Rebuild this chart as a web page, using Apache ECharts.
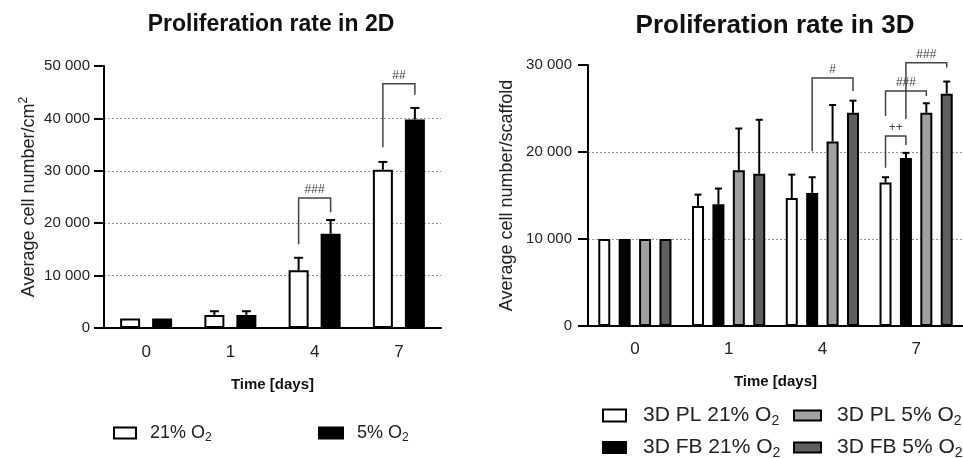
<!DOCTYPE html>
<html>
<head>
<meta charset="utf-8">
<script src="https://cdn.jsdelivr.net/npm/echarts@6/dist/echarts.min.js"></script>
<style>
  html, body { margin: 0; padding: 0; background: #fff; }
  #main { width: 963px; height: 458px; }
</style>
</head>
<body>
<div id="main"></div>
<script>
// categories
var days = ['0', '1', '4', '7'];

// 2D: mean and SD
var o21_2d = [1800, 2500, 11000, 30200];
var o21_2d_sd = [0, 700, 2400, 1500];
var o5_2d = [1800, 2500, 18000, 39800];
var o5_2d_sd = [0, 700, 2600, 2200];

// 3D: mean and SD
var pl21 = [10000, 13800, 14700, 16500];
var pl21_sd = [0, 1300, 2700, 600];
var fb21 = [10000, 14000, 15300, 19300];
var fb21_sd = [0, 1800, 1800, 600];
var pl5 = [10000, 17900, 21200, 24500];
var pl5_sd = [0, 4800, 4200, 1100];
var fb5 = [10000, 17500, 24500, 26700];
var fb5_sd = [0, 6200, 1400, 1400];

// significance brackets: [category, from bar, to bar, left foot, top, right foot]
var brackets2d = [[2, 0, 1, 16000, 24800, 22100], [3, 0, 1, 34500, 46600, 44500]];
var brackets2dText = ['###', '##'];
var brackets3d = [[2, 1, 3, 20100, 28500, 27000], [3, 0, 1, 18200, 21850, 20800],
                  [3, 0, 2, 24150, 27000, 26450], [3, 1, 3, 23800, 30250, 29700]];
var brackets3dText = ['#', '++', '###', '###'];

var SANS = '"Liberation Sans", Arial, sans-serif';

function thousands(v) {
    return String(v).replace(/\B(?=(\d{3})+(?!\d))/g, ' ');
}

function errData(series) {
    var out = [];
    series.forEach(function (s, idx) {
        s[0].forEach(function (m, c) {
            if (s[1][c] > 0) out.push([c, idx, m, m + s[1][c]]);
        });
    });
    return out;
}

function errRender(barW, gap, n, cap) {
    return function (params, api) {
        var cat = api.value(0), idx = api.value(1);
        var off = (idx - (n - 1) / 2) * (barW + gap);
        var p0 = api.coord([cat, api.value(2)]);
        var p1 = api.coord([cat, api.value(3)]);
        var x = p0[0] + off;
        return {
            type: 'group',
            children: [
                {type: 'line', shape: {x1: x, y1: p0[1], x2: x, y2: p1[1]}, style: {stroke: '#000', lineWidth: 2}},
                {type: 'line', shape: {x1: x - cap / 2, y1: p1[1], x2: x + cap / 2, y2: p1[1]}, style: {stroke: '#000', lineWidth: 2}}
            ]
        };
    };
}

function bracketRender(barW, gap, n, texts) {
    return function (params, api) {
        var cat = api.value(0);
        var xa = api.coord([cat, 0])[0] + (api.value(1) - (n - 1) / 2) * (barW + gap);
        var xb = api.coord([cat, 0])[0] + (api.value(2) - (n - 1) / 2) * (barW + gap);
        var yl = api.coord([cat, api.value(3)])[1];
        var yt = api.coord([cat, api.value(4)])[1];
        var yr = api.coord([cat, api.value(5)])[1];
        return {
            type: 'group',
            children: [
                {type: 'polyline', shape: {points: [[xa, yl], [xa, yt], [xb, yt], [xb, yr]]},
                 style: {stroke: '#444', lineWidth: 1.5, fill: null}},
                {type: 'text', style: {text: texts[params.dataIndex], x: (xa + xb) / 2, y: yt - 2,
                 align: 'center', verticalAlign: 'bottom', fontSize: 12, fontFamily: SANS, fill: '#444'}}
            ]
        };
    };
}

function xAxisOf(gridIndex, nameGap, labelMargin) {
    return {
        type: 'category', gridIndex: gridIndex, data: days,
        name: 'Time [days]', nameLocation: 'middle', nameGap: nameGap,
        nameTextStyle: {fontFamily: SANS, fontWeight: 'bold', fontSize: 15, color: '#111'},
        axisLine: {lineStyle: {color: '#000', width: 2}},
        axisTick: {alignWithLabel: true, length: 10, lineStyle: {width: 2}},
        axisLabel: {fontFamily: SANS, fontSize: 17, color: '#222', margin: labelMargin}
    };
}

function yAxisOf(gridIndex, max, name, nameGap, labelMargin, gridColors) {
    return {
        type: 'value', gridIndex: gridIndex, min: 0, max: max, interval: 10000,
        name: name, nameLocation: 'middle', nameGap: nameGap,
        nameTextStyle: {
            fontFamily: SANS, fontSize: 18, color: '#222',
            rich: {t: {fontFamily: SANS, fontSize: 18, color: '#222'},
                   s: {fontFamily: SANS, fontSize: 12, color: '#222', padding: [0, 0, 10, 0]}}
        },
        axisLine: {show: true, lineStyle: {color: '#000', width: 2}},
        axisTick: {show: true, length: 10, lineStyle: {width: 2}},
        axisLabel: {fontFamily: SANS, fontSize: 15, color: '#222', margin: labelMargin, formatter: thousands},
        splitLine: {show: true, lineStyle: {color: gridColors, type: [2, 2], width: 1}}
    };
}

function legendOf(name, left, top, size, w, h, pad) {
    return {
        data: [name], left: left, top: top, padding: 0,
        icon: 'rect', itemWidth: w, itemHeight: h,
        selectedMode: false,
        formatter: function (n) { return '{t|' + n.slice(0, -1) + '}{s|2}'; },
        textStyle: {
            fontFamily: SANS, fontSize: size, color: '#222',
            rich: {t: {fontFamily: SANS, fontSize: size, color: '#222', padding: [0, 0, 0, pad]},
                   s: {fontFamily: SANS, fontSize: Math.round(size * 0.68), color: '#222',
                       padding: [Math.round(size * 0.5), 0, 0, 0]}}
        }
    };
}

function barOf(name, x, y, data, color, w, gap) {
    return {
        name: name, type: 'bar', xAxisIndex: x, yAxisIndex: y, data: data,
        barWidth: w, barGap: gap,
        itemStyle: {color: color, borderColor: '#000', borderWidth: 2}
    };
}

var chart = echarts.init(document.getElementById('main'));
var option = {
    animation: false,
    title: [
        {text: 'Proliferation rate in 2D', left: 271, top: 13, padding: 0, textAlign: 'center',
         textStyle: {fontFamily: SANS, fontWeight: 'bold', fontSize: 23, color: '#111'}},
        {text: 'Proliferation rate in 3D', left: 775, top: 13, padding: 0, textAlign: 'center',
         textStyle: {fontFamily: SANS, fontWeight: 'bold', fontSize: 26, color: '#111'}}
    ],
    legend: [
        legendOf('21% O2', 113, 424, 18, 22, 11, 9),
        legendOf('5% O2', 318, 424, 18, 24, 11, 9),
        legendOf('3D PL 21% O2', 602, 405, 21, 23, 12, 12),
        legendOf('3D FB 21% O2', 602, 437, 21, 23, 11, 12),
        legendOf('3D PL 5% O2', 793, 405, 21, 27, 10, 11),
        legendOf('3D FB 5% O2', 793, 437, 21, 27, 10, 11)
    ],
    grid: [
        {left: 104, right: 522, top: 66, bottom: 130},
        {left: 588, right: 0, top: 65, bottom: 132}
    ],
    xAxis: [xAxisOf(0, 49, 16), xAxisOf(1, 48, 15)],
    yAxis: [
        yAxisOf(0, 50000, '{t|Average cell number/cm}{s|2}', 64, 14,
                ['transparent', '#999', '#999', '#999', '#999', 'transparent']),
        yAxisOf(1, 30000, 'Average cell number/scaffold', 72, 16,
                ['transparent', '#999', '#999', 'transparent'])
    ],
    series: [
        barOf('21% O2', 0, 0, o21_2d, '#fff', 20, '60%'),
        barOf('5% O2', 0, 0, o5_2d, '#000', 20, '60%'),
        barOf('3D PL 21% O2', 1, 1, pl21, '#fff', 12, '70%'),
        barOf('3D FB 21% O2', 1, 1, fb21, '#000', 12, '70%'),
        barOf('3D PL 5% O2', 1, 1, pl5, '#a0a0a0', 12, '70%'),
        barOf('3D FB 5% O2', 1, 1, fb5, '#5f5f5f', 12, '70%'),
        {type: 'custom', xAxisIndex: 0, yAxisIndex: 0, z: 5, silent: true,
         renderItem: errRender(20, 12, 2, 9),
         data: errData([[o21_2d, o21_2d_sd], [o5_2d, o5_2d_sd]])},
        {type: 'custom', xAxisIndex: 1, yAxisIndex: 1, z: 5, silent: true,
         renderItem: errRender(12, 8.4, 4, 7),
         data: errData([[pl21, pl21_sd], [fb21, fb21_sd], [pl5, pl5_sd], [fb5, fb5_sd]])},
        {type: 'custom', xAxisIndex: 0, yAxisIndex: 0, z: 6, silent: true, clip: false,
         renderItem: bracketRender(20, 12, 2, brackets2dText), data: brackets2d},
        {type: 'custom', xAxisIndex: 1, yAxisIndex: 1, z: 6, silent: true, clip: false,
         renderItem: bracketRender(12, 8.4, 4, brackets3dText), data: brackets3d}
    ]
};
chart.setOption(option);
</script>
</body>
</html>
